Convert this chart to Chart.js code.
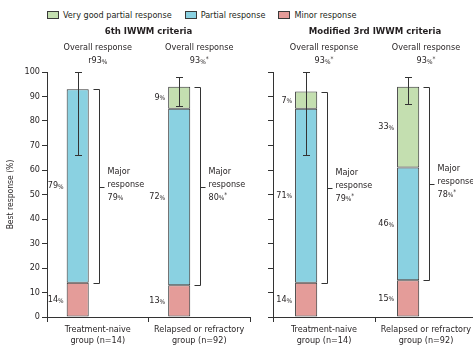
<!DOCTYPE html>
<html>
<head>
<meta charset="utf-8">
<script src="https://cdn.jsdelivr.net/npm/chart.js@4/dist/chart.umd.min.js"></script>
<style>
  html, body { margin: 0; padding: 0; background: #fff; }
  body { width: 473px; height: 348px; overflow: hidden; position: relative;
         font-family: 'DejaVu Sans Condensed', 'Liberation Sans', sans-serif; color: #231f20; }
  #legend { position: absolute; top: 9px; left: 47px; display: flex; font-size: 9px; line-height: 12px; white-space: nowrap; }
  #legend .item { display: flex; align-items: center; margin-right: 13px; }
  #legend .sw { width: 10px; height: 6px; border: 1px solid #3a3a3a; margin-right: 4px; }
  #c1 { position: absolute; left: 0; top: 0; }
  #c2 { position: absolute; left: 258px; top: 0; }
</style>
</head>
<body>
<div id="legend"></div>
<canvas id="c1" width="258" height="348"></canvas>
<canvas id="c2" width="230" height="348"></canvas>
<script>
// Response categories (bottom to top of each stack) and their fills
const responseNames = ['Minor response', 'Partial response', 'Very good partial response'];
const responseColors = ['#e49c99', '#8ad1e1', '#c4dfb0'];

const groupLabels = [['Treatment-naive', 'group (n=14)'], ['Relapsed or refractory', 'group (n=92)']];
const yTickValues = [0, 10, 20, 30, 40, 50, 60, 70, 80, 90, 100];

// 6th IWWM criteria
const title6th = '6th IWWM criteria';
const minor6th = [14, 13];
const partial6th = [79, 72];
const vgpr6th = [0, 9];
const ciLow6th = [66, 86];
const ciHigh6th = [100, 98];
const overall6th = ['r93%', '93%*'];
const major6th = ['79%', '80%*'];

// Modified 3rd IWWM criteria
const title3rd = 'Modified 3rd IWWM criteria';
const minor3rd = [14, 15];
const partial3rd = [71, 46];
const vgpr3rd = [7, 33];
const ciLow3rd = [66, 87];
const ciHigh3rd = [100, 98];
const overall3rd = ['93%*', '93%*'];
const major3rd = ['79%*', '78%*'];

const FONT = "'DejaVu Sans Condensed', 'Liberation Sans', sans-serif";
const INK = '#231f20';
const LINE = '#333333';
Chart.defaults.font.family = FONT;
Chart.defaults.color = INK;

// HTML legend, listed top of stack first
const legendEl = document.getElementById('legend');
[2, 1, 0].forEach(i => {
  const item = document.createElement('div');
  item.className = 'item';
  const sw = document.createElement('span');
  sw.className = 'sw';
  sw.style.background = responseColors[i];
  const tx = document.createElement('span');
  tx.textContent = responseNames[i];
  item.appendChild(sw);
  item.appendChild(tx);
  legendEl.appendChild(item);
});

// Draws text such as "79%*" with a reduced percent sign and star
function drawPct(ctx, text, x, y, align) {
  const m = text.match(/^([^%]*)(%?)(\*?)$/);
  const num = m ? m[1] : text, pct = m ? m[2] : '', star = m ? m[3] : '';
  const big = '9px ' + FONT, small = '6.5px ' + FONT;
  ctx.font = big; const wN = ctx.measureText(num).width;
  ctx.font = small; const wP = ctx.measureText(pct).width; const wS = ctx.measureText(star).width;
  const total = wN + wP + wS;
  let sx = align === 'right' ? x - total : align === 'center' ? x - total / 2 : x;
  ctx.textAlign = 'left';
  ctx.textBaseline = 'middle';
  ctx.font = big; ctx.fillText(num, sx, y);
  ctx.font = small; ctx.fillText(pct, sx + wN, y + 1);
  ctx.fillText(star, sx + wN + wP, y - 2);
}

const annotate = {
  id: 'annotate',
  afterDatasetsDraw(chart, args, o) {
    const { ctx, scales: { x, y }, chartArea } = chart;
    const bars = chart.getDatasetMeta(0).data;
    ctx.save();
    ctx.fillStyle = INK;
    ctx.strokeStyle = LINE;
    ctx.lineWidth = 1;

    // panel title
    ctx.font = 'bold 9.5px ' + FONT;
    ctx.textAlign = 'center';
    ctx.textBaseline = 'middle';
    ctx.fillText(o.title, (chartArea.left + chartArea.right) / 2, 32);

    o.minor.forEach((mn, i) => {
      const segs = [mn, o.partial[i], o.vgpr[i]];
      const bar = bars[i];
      const left = bar.x - bar.width / 2, right = bar.x + bar.width / 2;
      const cx = x.getPixelForValue(i);

      // overall response heading
      ctx.font = '9px ' + FONT;
      ctx.textAlign = 'center';
      ctx.textBaseline = 'middle';
      ctx.fillText('Overall response', cx, 48);
      drawPct(ctx, o.overall[i], cx, 61, 'center');

      // segment labels left of the bar
      let base = 0;
      segs.forEach(v => {
        if (v > 0) drawPct(ctx, v + '%', left - 3, y.getPixelForValue(base + v / 2), 'right');
        base += v;
      });

      // error bar
      const ex = Math.round(bar.x) + 0.5;
      const yl = Math.round(y.getPixelForValue(o.ciLow[i])) + 0.5;
      const yh = Math.round(y.getPixelForValue(o.ciHigh[i])) + 0.5;
      ctx.beginPath();
      ctx.moveTo(ex, yl); ctx.lineTo(ex, yh);
      ctx.moveTo(ex - 3.5, yl); ctx.lineTo(ex + 3.5, yl);
      ctx.moveTo(ex - 3.5, yh); ctx.lineTo(ex + 3.5, yh);
      ctx.stroke();

      // major response bracket (partial + very good partial)
      const bx = Math.round(right + 10) + 0.5;
      const yt = Math.round(y.getPixelForValue(base)) + 0.5;
      const yb = Math.round(y.getPixelForValue(mn)) + 0.5;
      const ym = Math.round((yt + yb) / 2) + 0.5;
      ctx.beginPath();
      ctx.moveTo(bx - 6, yt); ctx.lineTo(bx, yt); ctx.lineTo(bx, yb); ctx.lineTo(bx - 6, yb);
      ctx.moveTo(bx, ym); ctx.lineTo(bx + 5, ym);
      ctx.stroke();
      ctx.font = '9px ' + FONT;
      ctx.textAlign = 'left';
      ctx.textBaseline = 'middle';
      ctx.fillText('Major', bx + 8, ym - 16);
      ctx.fillText('response', bx + 8, ym - 3);
      drawPct(ctx, o.major[i], bx + 8, ym + 10, 'left');
    });
    ctx.restore();
  }
};

function buildChart(canvasId, p, withLabels, axisWidth, pad, catPct, barPct) {
  const series = [p.minor, p.partial, p.vgpr];
  const datasets = series.map((d, k) => ({
    label: responseNames[k],
    data: d,
    stack: 'response',
    backgroundColor: responseColors[k],
    borderColor: LINE,
    borderWidth: 1,
    borderSkipped: false,
    categoryPercentage: catPct,
    barPercentage: barPct
  }));
  // empty companion stack keeps each bar left of its category centre
  datasets.push({ label: '', data: [0, 0], stack: 'spacer', backgroundColor: 'rgba(0,0,0,0)',
                  borderWidth: 0, categoryPercentage: catPct, barPercentage: barPct });

  return new Chart(document.getElementById(canvasId), {
    type: 'bar',
    data: { labels: groupLabels, datasets },
    options: {
      responsive: false,
      animation: false,
      layout: { padding: pad },
      plugins: { legend: { display: false }, tooltip: { enabled: false }, annotate: p },
      scales: {
        x: {
          stacked: true,
          offset: true,
          grid: { offset: true, drawOnChartArea: false, tickLength: 5, color: LINE, tickColor: LINE },
          border: { color: LINE, width: 1 },
          ticks: { font: { size: 9 }, color: INK, padding: 2, maxRotation: 0, autoSkip: false },
          afterFit: s => { s.height = 31; }
        },
        y: {
          stacked: true,
          min: 0, max: 100,
          afterBuildTicks: s => { s.ticks = yTickValues.map(v => ({ value: v })); },
          grid: { drawOnChartArea: false, tickLength: 5, color: LINE, tickColor: LINE },
          border: { color: LINE, width: 1 },
          ticks: { display: withLabels, font: { size: 9 }, color: INK, padding: 2 },
          title: { display: withLabels, text: 'Best response (%)', font: { size: 8.5 }, color: INK, padding: { top: 6, bottom: 0 } },
          afterFit: s => { s.width = axisWidth; }
        }
      }
    },
    plugins: [annotate]
  });
}

buildChart('c1', { title: title6th, minor: minor6th, partial: partial6th, vgpr: vgpr6th,
                   ciLow: ciLow6th, ciHigh: ciHigh6th, overall: overall6th, major: major6th },
           true, 47, { top: 72, right: 8, bottom: 0, left: 0 }, 0.79, 0.55);
buildChart('c2', { title: title3rd, minor: minor3rd, partial: partial3rd, vgpr: vgpr3rd,
                   ciLow: ciLow3rd, ciHigh: ciHigh3rd, overall: overall3rd, major: major3rd },
           false, 15, { top: 72, right: 11, bottom: 0, left: 0 }, 0.7, 0.62);
</script>
</body>
</html>
